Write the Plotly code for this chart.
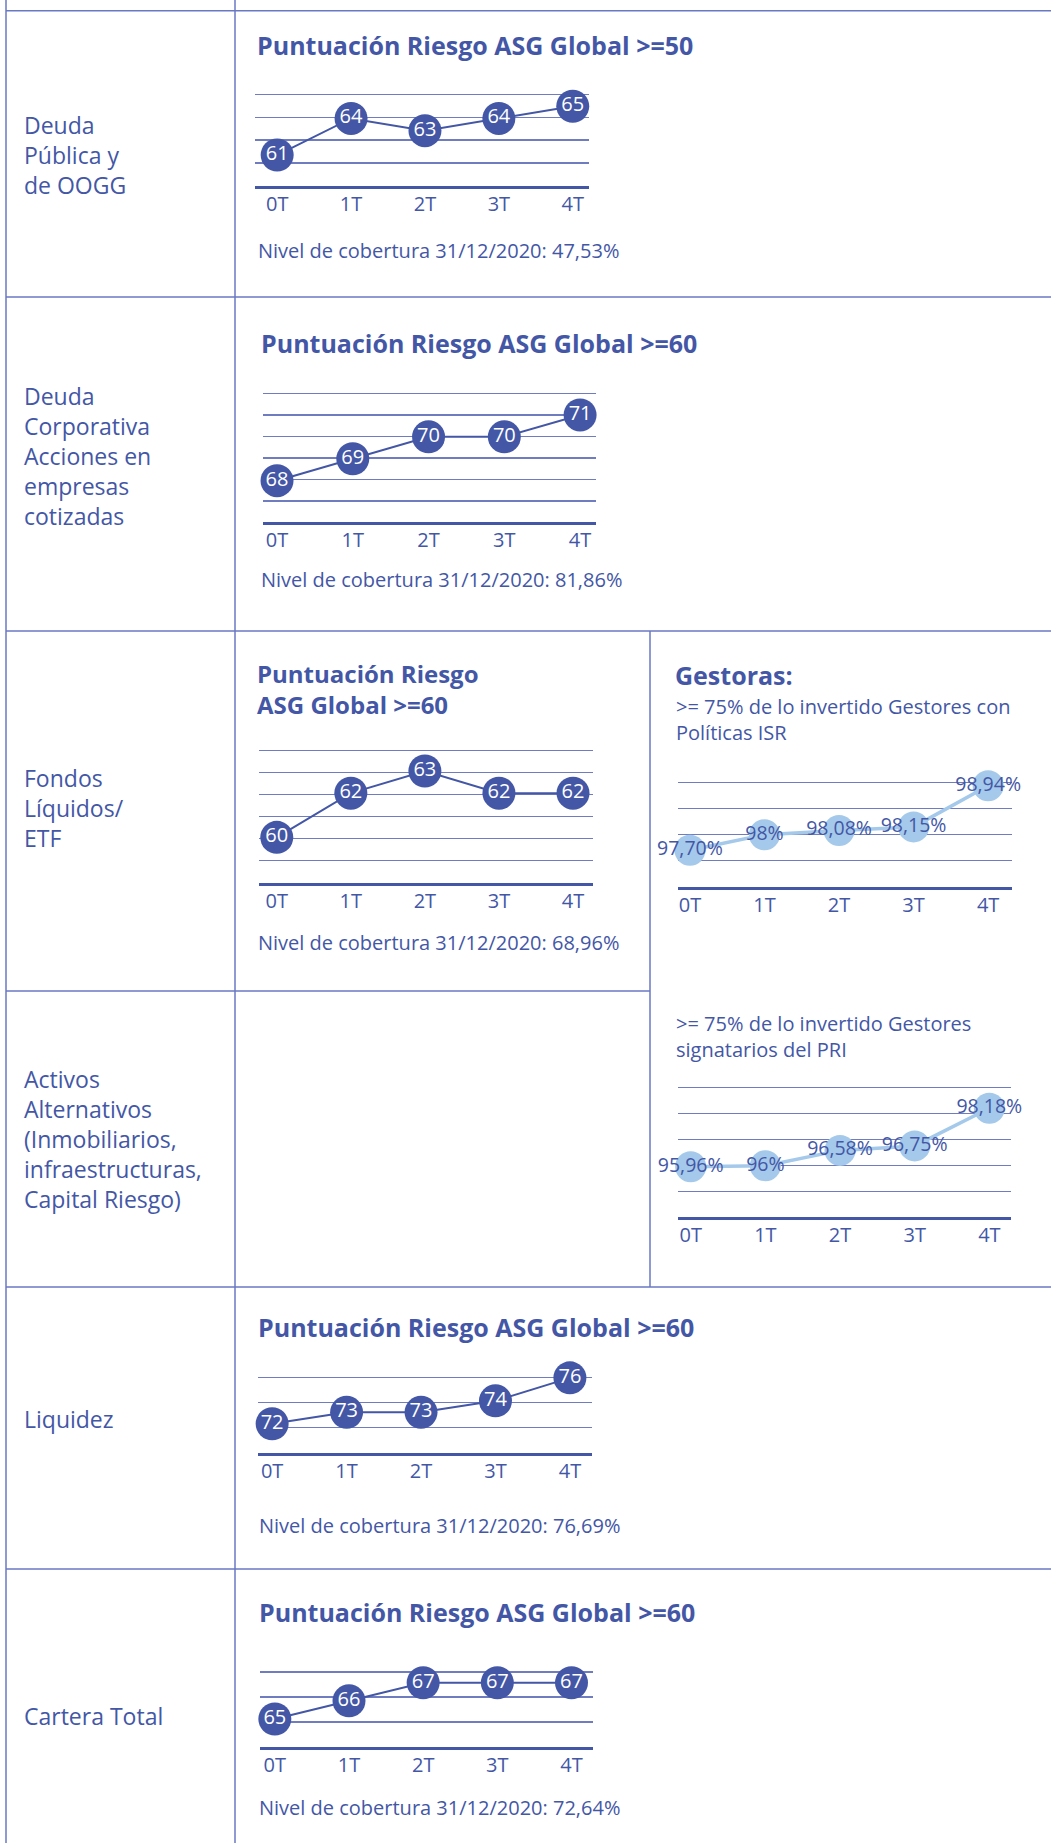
import plotly.graph_objects as go

W, H = 1051, 1843
DARK = "#4357a6"
LIGHT = "#a5c9ea"
GRID = "#6f7dc0"
BORDER = "#6878c2"
FONT = "Open Sans"

# ---------------- data ----------------
categories = ["0T", "1T", "2T", "3T", "4T"]

deuda_publica = [61, 64, 63, 64, 65]
deuda_corporativa = [68, 69, 70, 70, 71]
fondos_liquidos = [60, 62, 63, 62, 62]
gestoras_isr = [97.70, 98.00, 98.08, 98.15, 98.94]
gestoras_isr_labels = ["97,70%", "98%", "98,08%", "98,15%", "98,94%"]
gestoras_pri = [95.96, 96.00, 96.58, 96.75, 98.18]
gestoras_pri_labels = ["95,96%", "96%", "96,58%", "96,75%", "98,18%"]
liquidez = [72, 73, 73, 74, 76]
cartera_total = [65, 66, 67, 67, 67]

row_labels = [
    ["Deuda", "Pública y", "de OOGG"],
    ["Deuda", "Corporativa", "Acciones en", "empresas", "cotizadas"],
    ["Fondos", "Líquidos/", "ETF"],
    ["Activos", "Alternativos", "(Inmobiliarios,", "infraestructuras,", "Capital Riesgo)"],
    ["Liquidez"],
    ["Cartera Total"],
]
title_50 = "Puntuación Riesgo ASG Global >=50"
title_60 = "Puntuación Riesgo ASG Global >=60"
title_60_lines = ["Puntuación Riesgo", "ASG Global >=60"]
gestoras_title = "Gestoras:"
gestoras_isr_sub = [">= 75% de lo invertido Gestores con", "Políticas ISR"]
gestoras_pri_sub = [">= 75% de lo invertido Gestores", "signatarios del PRI"]
coverage = ["47,53%", "81,86%", "68,96%", "76,69%", "72,64%"]
coverage_prefix = "Nivel de cobertura 31/12/2020: "


def fx(x):
    return x / W


def fy(y):
    return 1 - y / H


# ---------------- chart geometry (pixels) ----------------
charts = [
    dict(values=deuda_publica, labels=[str(v) for v in deuda_publica], style="dark",
         x0=255, x1=589, ytop=94.3, ybot=186, xr=[-0.3, 4.22], yr=[58.46, 65.98], n=4),
    dict(values=deuda_corporativa, labels=[str(v) for v in deuda_corporativa], style="dark",
         x0=263, x1=596, ytop=393.7, ybot=522.3, xr=[-0.185, 4.21], yr=[66.1, 71.97], n=6),
    dict(values=fondos_liquidos, labels=[str(v) for v in fondos_liquidos], style="dark",
         x0=259, x1=593, ytop=750.7, ybot=882.7, xr=[-0.24, 4.27], yr=[57.95, 63.92], n=6),
    dict(values=gestoras_isr, labels=gestoras_isr_labels, style="light",
         x0=678, x1=1012, ytop=782.7, ybot=886.7, xr=[-0.16, 4.32], yr=[97.0, 99.0], n=4),
    dict(values=gestoras_pri, labels=gestoras_pri_labels, style="light",
         x0=678, x1=1011, ytop=1087.7, ybot=1217.3, xr=[-0.17, 4.29], yr=[94.04, 98.96], n=5),
    dict(values=liquidez, labels=[str(v) for v in liquidez], style="dark",
         x0=258, x1=591.5, ytop=1377.3, ybot=1452.7, xr=[-0.19, 4.29], yr=[69.48, 76.05], n=3),
    dict(values=cartera_total, labels=[str(v) for v in cartera_total], style="dark",
         x0=260, x1=593, ytop=1672, ybot=1747.3, xr=[-0.2, 4.29], yr=[63.44, 67.59], n=3),
]

PAD = 5  # extra pixels above the top gridline so it is not clipped at the plot edge

fig = go.Figure()
layout_axes = {}
for i, c in enumerate(charts, start=1):
    sx = "" if i == 1 else str(i)
    xpos = list(range(len(categories)))
    if c["style"] == "dark":
        line = dict(color=DARK, width=2)
        marker = dict(size=33, color=DARK)
        tfont = dict(color="white", size=20, family=FONT)
    else:
        line = dict(color=LIGHT, width=3.5)
        marker = dict(size=31, color=LIGHT)
        tfont = dict(color=DARK, size=19.5, family=FONT)
    fig.add_trace(go.Scatter(
        x=xpos, y=c["values"], text=c["labels"], mode="lines+markers+text",
        textposition="middle center", line=line, marker=marker, textfont=tfont,
        cliponaxis=False, hoverinfo="skip", showlegend=False,
        xaxis="x" + sx, yaxis="y" + sx,
    ))
    lo, hi = c["yr"]
    step = (hi - lo) / c["n"]
    ppu = (c["ybot"] - c["ytop"]) / (hi - lo)
    layout_axes["xaxis" + sx] = dict(
        domain=[fx(c["x0"]), fx(c["x1"])], range=c["xr"], anchor="y" + sx,
        tickmode="array", tickvals=xpos, ticktext=categories,
        showgrid=False, zeroline=False, showline=True, linecolor=DARK, linewidth=3,
        ticks="", ticklabelstandoff=-2,
        tickfont=dict(size=20, color=DARK, family=FONT), fixedrange=True,
    )
    layout_axes["yaxis" + sx] = dict(
        domain=[fy(c["ybot"]), fy(c["ytop"] - PAD)], range=[lo, hi + PAD / ppu], anchor="x" + sx,
        tickmode="array", tickvals=[lo + k * step for k in range(1, c["n"] + 1)],
        showticklabels=False, showgrid=True, gridcolor=GRID, gridwidth=1.4,
        zeroline=False, showline=False, fixedrange=True,
    )

# ---------------- table borders ----------------
shapes = []


def hline(y, x0, x1):
    shapes.append(dict(type="line", xref="paper", yref="paper", x0=fx(x0), x1=fx(x1),
                       y0=fy(y), y1=fy(y), line=dict(color=BORDER, width=1.5)))


def vline(x, y0, y1):
    shapes.append(dict(type="line", xref="paper", yref="paper", x0=fx(x), x1=fx(x),
                       y0=fy(y0), y1=fy(y1), line=dict(color=BORDER, width=1.5)))


hline(10.7, 6, W)
hline(297, 6, W)
hline(631, 6, W)
hline(991, 6, 650)
hline(1287, 6, W)
hline(1569, 6, W)
vline(6, 0, H)
vline(235, 0, H)
vline(650, 631, 1287)

# ---------------- texts ----------------
annotations = []


def text(x, y, lines, size, bold=False, color=DARK):
    if isinstance(lines, str):
        lines = [lines]
    annotations.append(dict(
        x=fx(x), y=fy(y), xref="paper", yref="paper", text="<br>".join(lines),
        showarrow=False, xanchor="left", yanchor="middle", align="left", borderpad=0,
        font=dict(family=FONT, size=size, color=color, weight=700 if bold else 400),
    ))


label_y = [154.5, 456, 808.5, 1139, 1419, 1716]
for lines, y in zip(row_labels, label_y):
    text(23, y, lines, 23)

text(256, 45, title_50, 25, bold=True)
text(260, 343, title_60, 25, bold=True)
text(256, 689, title_60_lines, 24, bold=True)
text(257, 1327, title_60, 25, bold=True)
text(258, 1612, title_60, 25, bold=True)

text(674, 674.5, gestoras_title, 25, bold=True)
text(675, 719, gestoras_isr_sub, 20)
text(675, 1036, gestoras_pri_sub, 20)

for (x, y), pct in zip([(257, 250), (260, 580), (257, 943), (258, 1525), (258, 1807)], coverage):
    text(x, y, coverage_prefix + pct, 20)

fig.update_layout(
    width=W, height=H, margin=dict(l=0, r=0, t=0, b=0),
    paper_bgcolor="white", plot_bgcolor="white",
    font=dict(family=FONT, color=DARK),
    shapes=shapes, annotations=annotations, showlegend=False,
    **layout_axes,
)

fig.write_html(
    "out.html",
    config=dict(displayModeBar=False, staticPlot=True),
    post_script="document.body.style.margin='0';document.body.style.overflow='hidden';",
)
